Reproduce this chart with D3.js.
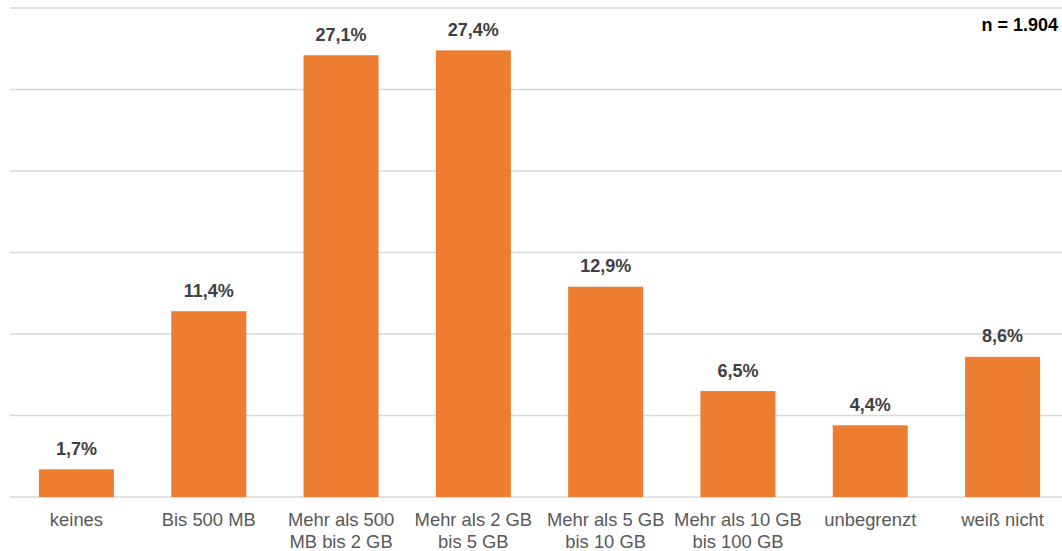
<!DOCTYPE html>
<html>
<head>
<meta charset="utf-8">
<script src="https://cdn.jsdelivr.net/npm/d3@7"></script>
<style>
  body { margin: 0; background: #fff; }
  svg { display: block; font-family: "Liberation Sans", Arial, sans-serif; }
  .grid line { stroke: #d9d9d9; stroke-width: 1.5; }
  .value { font-weight: bold; font-size: 18px; fill: #404040; }
  .cat text { font-size: 18.4px; fill: #595959; }
</style>
</head>
<body>
<div id="chart"></div>
<script>
var categories = [
  ["keines"],
  ["Bis 500 MB"],
  ["Mehr als 500", "MB bis 2 GB"],
  ["Mehr als 2 GB", "bis 5 GB"],
  ["Mehr als 5 GB", "bis 10 GB"],
  ["Mehr als 10 GB", "bis 100 GB"],
  ["unbegrenzt"],
  ["weiß nicht"]
];
var values = [1.7, 11.4, 27.1, 27.4, 12.9, 6.5, 4.4, 8.6];
var gridTicks = [0, 5, 10, 15, 20, 25, 30];
var sampleNote = "n = 1.904";

var width = 1062, height = 551;

var svg = d3.select("#chart")
  .append("svg")
  .attr("width", width)
  .attr("height", height);

var y = d3.scaleLinear()
  .domain([0, 30])
  .range([497, 8]);

// band scale runs a little past the right edge, the picture is cropped there
var x = d3.scaleBand()
  .domain(d3.range(values.length))
  .range([10.5, 1068.5])
  .paddingInner(0.433)
  .paddingOuter(0.215);

svg.append("g")
  .attr("class", "grid")
  .selectAll("line")
  .data(gridTicks)
  .enter()
  .append("line")
  .attr("x1", 10)
  .attr("x2", width)
  .attr("y1", function(d) { return y(d); })
  .attr("y2", function(d) { return y(d); });

svg.append("g")
  .selectAll("rect")
  .data(values)
  .enter()
  .append("rect")
  .attr("x", function(d, i) { return x(i); })
  .attr("y", function(d) { return y(d); })
  .attr("width", x.bandwidth())
  .attr("height", function(d) { return y(0) - y(d); })
  .attr("fill", "#ed7d31");

svg.append("g")
  .selectAll("text")
  .data(values)
  .enter()
  .append("text")
  .attr("class", "value")
  .attr("x", function(d, i) { return x(i) + x.bandwidth() / 2; })
  .attr("y", function(d) { return y(d) - 14.5; })
  .attr("text-anchor", "middle")
  .text(function(d) { return d.toFixed(1).replace(".", ",") + "%"; });

// category axis, labels split on two lines
var xAxis = d3.axisBottom(x).tickSize(0).tickFormat("");
var axisG = svg.append("g")
  .attr("class", "cat")
  .attr("transform", "translate(0," + y(0) + ")")
  .call(xAxis);
axisG.select(".domain").remove();
axisG.selectAll(".tick text")
  .attr("y", 0)
  .attr("dy", null)
  .each(function(d) {
    var t = d3.select(this);
    categories[d].forEach(function(line, k) {
      t.append("tspan")
        .attr("x", 0)
        .attr("y", 29 + k * 21.5)
        .text(line);
    });
  });

svg.append("text")
  .attr("x", 1058)
  .attr("y", 31)
  .attr("text-anchor", "end")
  .style("font-weight", "bold")
  .style("font-size", "18px")
  .style("fill", "#000")
  .text(sampleNote);
</script>
</body>
</html>
